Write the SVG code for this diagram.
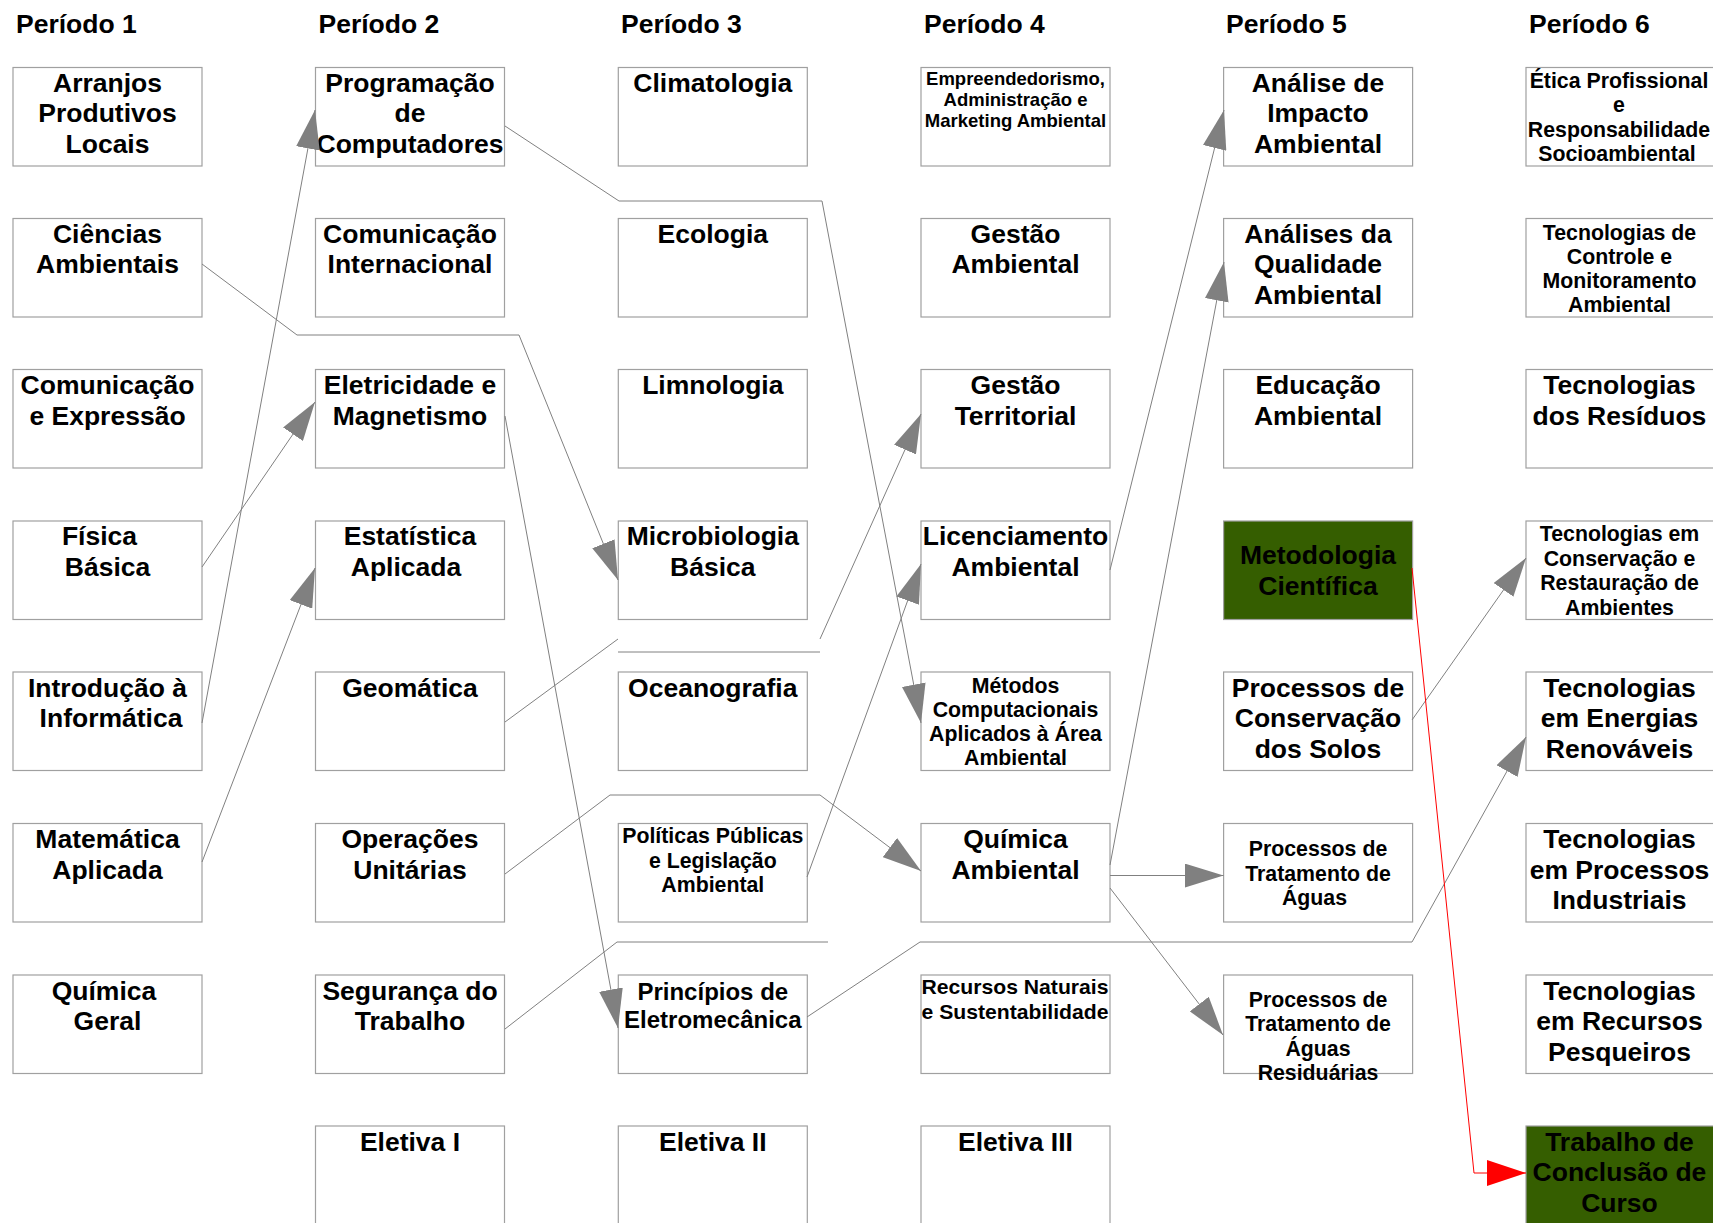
<svg xmlns="http://www.w3.org/2000/svg" width="1713" height="1223" viewBox="0 0 1713 1223">
<style>
text{font-family:"Liberation Sans",Arial,sans-serif;font-weight:bold;fill:#000;text-anchor:middle}
.h{font-size:26.5px;text-anchor:start}
.t{font-size:26.5px}
.s{font-size:21.3px}
.xs{font-size:18.5px}
.m{font-size:24px}
.r{font-size:20.5px}
.box{fill:#fff;stroke:#a0a0a0;stroke-width:1.2}
.green{fill:#355e00;stroke:#a0a0a0;stroke-width:1.2}
.c{fill:none;stroke:#808080;stroke-width:1}
.cr{fill:none;stroke:#ff0000;stroke-width:1}
</style>
<defs>
<marker id="ag" markerUnits="userSpaceOnUse" markerWidth="39" markerHeight="24" viewBox="0 0 39 24" refX="39" refY="12" orient="auto"><path d="M0,0 L39,12 L0,24 Z" fill="#808080"/></marker>
<marker id="ar" markerUnits="userSpaceOnUse" markerWidth="39" markerHeight="26" viewBox="0 0 39 26" refX="39" refY="13" orient="auto"><path d="M0,0 L39,13 L0,26 Z" fill="#ff0000"/></marker>
</defs>
<rect width="1713" height="1223" fill="#fff"/>
<g id="headers">
<text class="h" x="16" y="33">Período 1</text>
<text class="h" x="318.5" y="33">Período 2</text>
<text class="h" x="621" y="33">Período 3</text>
<text class="h" x="924" y="33">Período 4</text>
<text class="h" x="1226" y="33">Período 5</text>
<text class="h" x="1529" y="33">Período 6</text>
</g>
<!-- Column 1 -->
<g id="arranjos"><rect class="box" x="13" y="67.5" width="189" height="98.5"/><text class="t" x="107.5" y="91.7">Arranjos</text><text class="t" x="107.5" y="122">Produtivos</text><text class="t" x="107.5" y="152.5">Locais</text></g>
<g id="ciencias"><rect class="box" x="13" y="218.5" width="189" height="98.5"/><text class="t" x="107.5" y="242.7">Ciências</text><text class="t" x="107.5" y="273.3">Ambientais</text></g>
<g id="comexp"><rect class="box" x="13" y="369.5" width="189" height="98.5"/><text class="t" x="107.5" y="394">Comunicação</text><text class="t" x="107.5" y="424.5">e Expressão</text></g>
<g id="fisica"><rect class="box" x="13" y="521" width="189" height="98.5"/><text class="t" x="99.5" y="545">Física</text><text class="t" x="107.5" y="575.5">Básica</text></g>
<g id="introinfo"><rect class="box" x="13" y="672" width="189" height="98.5"/><text class="t" x="107.5" y="696.5">Introdução à</text><text class="t" x="111" y="727">Informática</text></g>
<g id="matematica"><rect class="box" x="13" y="823.5" width="189" height="98.5"/><text class="t" x="107.5" y="848">Matemática</text><text class="t" x="107.5" y="878.5">Aplicada</text></g>
<g id="quimgeral"><rect class="box" x="13" y="975" width="189" height="98.5"/><text class="t" x="104" y="999.5">Química</text><text class="t" x="107.5" y="1030">Geral</text></g>
<!-- Column 2 -->
<g id="programacao"><rect class="box" x="315.5" y="67.5" width="189" height="98.5"/><text class="t" x="410" y="91.7">Programação</text><text class="t" x="410" y="122">de</text><text class="t" x="410" y="152.5">Computadores</text></g>
<g id="cominter"><rect class="box" x="315.5" y="218.5" width="189" height="98.5"/><text class="t" x="410" y="242.7">Comunicação</text><text class="t" x="410" y="273.3">Internacional</text></g>
<g id="eletricidade"><rect class="box" x="315.5" y="369.5" width="189" height="98.5"/><text class="t" x="410" y="394">Eletricidade e</text><text class="t" x="410" y="424.5">Magnetismo</text></g>
<g id="estatistica"><rect class="box" x="315.5" y="521" width="189" height="98.5"/><text class="t" x="410" y="545">Estatística</text><text class="t" x="406" y="575.5">Aplicada</text></g>
<g id="geomatica"><rect class="box" x="315.5" y="672" width="189" height="98.5"/><text class="t" x="410" y="696.5">Geomática</text></g>
<g id="operacoes"><rect class="box" x="315.5" y="823.5" width="189" height="98.5"/><text class="t" x="410" y="848">Operações</text><text class="t" x="410" y="878.5">Unitárias</text></g>
<g id="seguranca"><rect class="box" x="315.5" y="975" width="189" height="98.5"/><text class="t" x="410" y="999.5">Segurança do</text><text class="t" x="410" y="1030">Trabalho</text></g>
<g id="eletiva1"><rect class="box" x="315.5" y="1126" width="189" height="98.5"/><text class="t" x="410" y="1150.5">Eletiva I</text></g>
<!-- Column 3 -->
<g id="climatologia"><rect class="box" x="618.3" y="67.5" width="189" height="98.5"/><text class="t" x="712.8" y="91.7">Climatologia</text></g>
<g id="ecologia"><rect class="box" x="618.3" y="218.5" width="189" height="98.5"/><text class="t" x="712.8" y="242.7">Ecologia</text></g>
<g id="limnologia"><rect class="box" x="618.3" y="369.5" width="189" height="98.5"/><text class="t" x="712.8" y="394">Limnologia</text></g>
<g id="microbiologia"><rect class="box" x="618.3" y="521" width="189" height="98.5"/><text class="t" x="712.8" y="545">Microbiologia</text><text class="t" x="712.8" y="575.5">Básica</text></g>
<g id="oceanografia"><rect class="box" x="618.3" y="672" width="189" height="98.5"/><text class="t" x="712.8" y="696.5">Oceanografia</text></g>
<g id="politicas"><rect class="box" x="618.3" y="823.5" width="189" height="98.5"/><text class="s" x="712.8" y="843.3">Políticas Públicas</text><text class="s" x="712.8" y="867.6">e Legislação</text><text class="s" x="712.8" y="892">Ambiental</text></g>
<g id="principios"><rect class="box" x="618.3" y="975" width="189" height="98.5"/><text class="m" x="712.8" y="1000">Princípios de</text><text class="m" x="712.8" y="1027.5">Eletromecânica</text></g>
<g id="eletiva2"><rect class="box" x="618.3" y="1126" width="189" height="98.5"/><text class="t" x="712.8" y="1150.5">Eletiva II</text></g>
<!-- Column 4 -->
<g id="empreendedorismo"><rect class="box" x="921" y="67.5" width="189" height="98.5"/><text class="xs" x="1015.5" y="85">Empreendedorismo,</text><text class="xs" x="1015.5" y="106.2">Administração e</text><text class="xs" x="1015.5" y="127.4">Marketing Ambiental</text></g>
<g id="gestaoamb"><rect class="box" x="921" y="218.5" width="189" height="98.5"/><text class="t" x="1015.5" y="242.7">Gestão</text><text class="t" x="1015.5" y="273.3">Ambiental</text></g>
<g id="gestaoterr"><rect class="box" x="921" y="369.5" width="189" height="98.5"/><text class="t" x="1015.5" y="394">Gestão</text><text class="t" x="1015.5" y="424.5">Territorial</text></g>
<g id="licenciamento"><rect class="box" x="921" y="521" width="189" height="98.5"/><text class="t" x="1015.5" y="545">Licenciamento</text><text class="t" x="1015.5" y="575.5">Ambiental</text></g>
<g id="metodos"><rect class="box" x="921" y="672" width="189" height="98.5"/><text class="s" x="1015.5" y="692.7">Métodos</text><text class="s" x="1015.5" y="716.9">Computacionais</text><text class="s" x="1015.5" y="741.1">Aplicados à Área</text><text class="s" x="1015.5" y="765.3">Ambiental</text></g>
<g id="quimamb"><rect class="box" x="921" y="823.5" width="189" height="98.5"/><text class="t" x="1015.5" y="848">Química</text><text class="t" x="1015.5" y="878.5">Ambiental</text></g>
<g id="recursos"><rect class="box" x="921" y="975" width="189" height="98.5"/><text class="r" x="1015" y="994" textLength="187" lengthAdjust="spacingAndGlyphs">Recursos Naturais</text><text class="r" x="1015" y="1019" textLength="187" lengthAdjust="spacingAndGlyphs">e Sustentabilidade</text></g>
<g id="eletiva3"><rect class="box" x="921" y="1126" width="189" height="98.5"/><text class="t" x="1015.5" y="1150.5">Eletiva III</text></g>
<!-- Column 5 -->
<g id="analiseimpacto"><rect class="box" x="1223.6" y="67.5" width="189" height="98.5"/><text class="t" x="1318" y="91.7">Análise de</text><text class="t" x="1318" y="122">Impacto</text><text class="t" x="1318" y="152.5">Ambiental</text></g>
<g id="analisesqual"><rect class="box" x="1223.6" y="218.5" width="189" height="98.5"/><text class="t" x="1318" y="242.7">Análises da</text><text class="t" x="1318" y="273.3">Qualidade</text><text class="t" x="1318" y="303.6">Ambiental</text></g>
<g id="educacao"><rect class="box" x="1223.6" y="369.5" width="189" height="98.5"/><text class="t" x="1318" y="394">Educação</text><text class="t" x="1318" y="424.5">Ambiental</text></g>
<g id="metodologia"><rect class="green" x="1223.6" y="521" width="189" height="98.5"/><text class="t" x="1318" y="564">Metodologia</text><text class="t" x="1318" y="594.5">Científica</text></g>
<g id="conservsolos"><rect class="box" x="1223.6" y="672" width="189" height="98.5"/><text class="t" x="1318" y="696.5">Processos de</text><text class="t" x="1318" y="727">Conservação</text><text class="t" x="1318" y="757.5">dos Solos</text></g>
<g id="tratagua"><rect class="box" x="1223.6" y="823.5" width="189" height="98.5"/><text class="s" x="1318" y="856">Processos de</text><text class="s" x="1318" y="880.5">Tratamento de</text><text class="s" x="1314.5" y="905">Águas</text></g>
<g id="tratresid"><rect class="box" x="1223.6" y="975" width="189" height="98.5"/><text class="s" x="1318" y="1006.7">Processos de</text><text class="s" x="1318" y="1031.2">Tratamento de</text><text class="s" x="1318" y="1055.7">Águas</text><text class="s" x="1318" y="1080.2">Residuárias</text></g>
<!-- Column 6 -->
<g id="etica"><rect class="box" x="1526" y="67.5" width="189" height="98.5"/><text class="s" x="1619" y="87.5">Ética Profissional</text><text class="s" x="1619" y="112">e</text><text class="s" x="1619" y="136.5">Responsabilidade</text><text class="s" x="1617" y="160.5">Socioambiental</text></g>
<g id="tecmonit"><rect class="box" x="1526" y="218.5" width="189" height="98.5"/><text class="s" x="1619.5" y="240">Tecnologias de</text><text class="s" x="1619.5" y="264">Controle e</text><text class="s" x="1619.5" y="288">Monitoramento</text><text class="s" x="1619.5" y="312">Ambiental</text></g>
<g id="tecresiduos"><rect class="box" x="1526" y="369.5" width="189" height="98.5"/><text class="t" x="1619.5" y="394">Tecnologias</text><text class="t" x="1619.5" y="424.5">dos Resíduos</text></g>
<g id="tecconserv"><rect class="box" x="1526" y="521" width="189" height="98.5"/><text class="s" x="1619.5" y="541">Tecnologias em</text><text class="s" x="1619.5" y="565.5">Conservação e</text><text class="s" x="1619.5" y="590">Restauração de</text><text class="s" x="1619.5" y="614.5">Ambientes</text></g>
<g id="tecenergias"><rect class="box" x="1526" y="672" width="189" height="98.5"/><text class="t" x="1619.5" y="696.5">Tecnologias</text><text class="t" x="1619.5" y="727">em Energias</text><text class="t" x="1619.5" y="757.5">Renováveis</text></g>
<g id="tecprocessos"><rect class="box" x="1526" y="823.5" width="189" height="98.5"/><text class="t" x="1619.5" y="848">Tecnologias</text><text class="t" x="1619.5" y="878.5">em Processos</text><text class="t" x="1619.5" y="909">Industriais</text></g>
<g id="tecpesqueiros"><rect class="box" x="1526" y="975" width="189" height="98.5"/><text class="t" x="1619.5" y="999.5">Tecnologias</text><text class="t" x="1619.5" y="1030">em Recursos</text><text class="t" x="1619.5" y="1060.5">Pesqueiros</text></g>
<g id="tcc"><rect class="green" x="1526" y="1126" width="189" height="98.5"/><text class="t" x="1619.5" y="1150.5">Trabalho de</text><text class="t" x="1619.5" y="1181">Conclusão de</text><text class="t" x="1619.5" y="1211.5">Curso</text></g>
<g id="connectors">
<path class="c" d="M202,723 L315,110" marker-end="url(#ag)"/>
<path class="c" d="M202,567 L315,402" marker-end="url(#ag)"/>
<path class="c" d="M202,862 L315,568" marker-end="url(#ag)"/>
<path class="c" d="M202,264 L297,335 L519,335 L618,580" marker-end="url(#ag)"/>
<path class="c" d="M505,126 L619,201 L822,201 L921,723" marker-end="url(#ag)"/>
<path class="c" d="M505,416 L618,1028" marker-end="url(#ag)"/>
<path class="c" d="M505,722 L618,639"/>
<path class="c" d="M618,652 L820,652"/>
<path class="c" d="M820,639 L921,414" marker-end="url(#ag)"/>
<path class="c" d="M505,874 L610,795 L820,795 L921,871" marker-end="url(#ag)"/>
<path class="c" d="M505,1029 L617,942 L828,942"/>
<path class="c" d="M807,1017 L920,942 L1412,942 L1526,737" marker-end="url(#ag)"/>
<path class="c" d="M807,877 L921,564" marker-end="url(#ag)"/>
<path class="c" d="M1110,570 L1224,110" marker-end="url(#ag)"/>
<path class="c" d="M1110,865 L1224,262" marker-end="url(#ag)"/>
<path class="c" d="M1110,875.5 L1223.6,875.5" marker-end="url(#ag)"/>
<path class="c" d="M1110,888 L1223,1035" marker-end="url(#ag)"/>
<path class="c" d="M1412,720 L1526,558" marker-end="url(#ag)"/>
<path class="cr" d="M1412,568 L1474,1173 L1526,1173" marker-end="url(#ar)"/>
</g>
</svg>
